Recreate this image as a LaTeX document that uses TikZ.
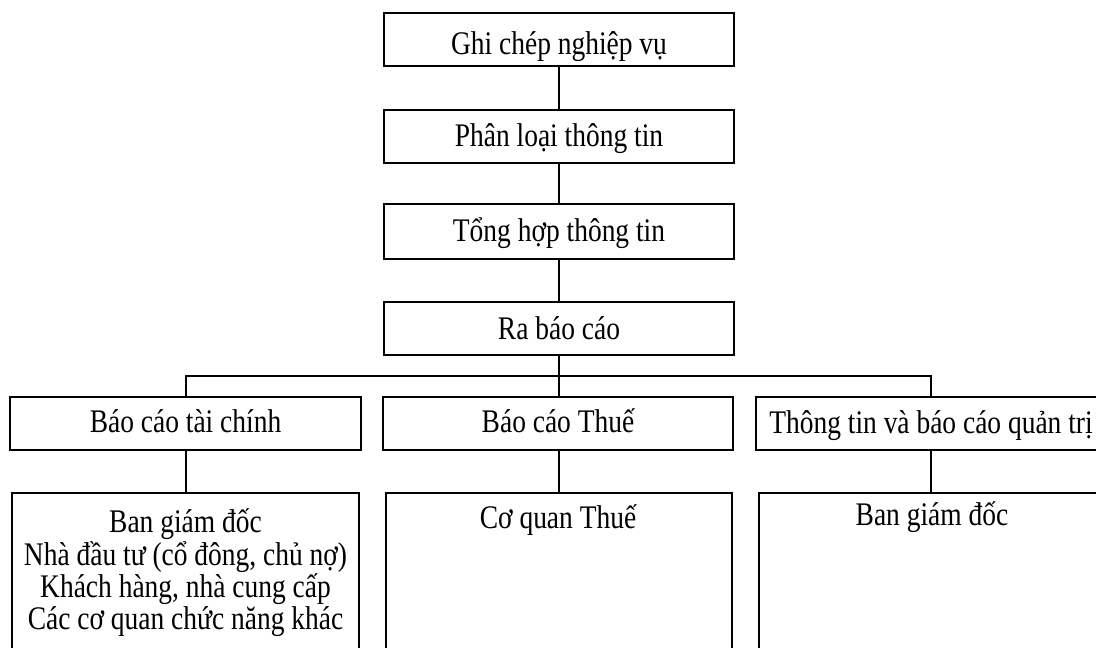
\documentclass[tikz,border=0pt]{standalone}
\usepackage{fontspec}
\setmainfont{Liberation Serif}
\newcommand\vtxt[1]{\scalebox{1}[1.2]{#1}}
\begin{document}
\begin{tikzpicture}[x=0.75pt,y=-0.75pt,
  box/.style 2 args={draw, rectangle, line width=1.5pt, inner sep=0pt,
    minimum width=#1*0.75pt, minimum height=#2*0.75pt},
  lnk/.style={line width=1.5pt},
  txt/.style={anchor=base, inner sep=0pt, font=\fontsize{20.6pt}{22.5pt}\selectfont}]
\useasboundingbox (0,0) rectangle (1096,648);
% top chain
\node[box={350}{53}] (t1) at (559,39.5) {};
\node[box={350}{53}] (t2) at (559,136.5) {};
\node[box={350}{55}] (t3) at (559,231.5) {};
\node[box={350}{53}] (t4) at (559,328.5) {};
\node[txt] (t1t) at (559,55) {\vtxt{Ghi chép nghiệp vụ}};
\node[txt] (t2t) at (559,147) {\vtxt{Phân loại thông tin}};
\node[txt] (t3t) at (559,242) {\vtxt{Tổng hợp thông tin}};
\node[txt] (t4t) at (559,340) {\vtxt{Ra báo cáo}};
% level 2
\node[box={351}{53}] (a) at (185.5,423.5) {};
\node[box={350}{53}] (b) at (558,423.5) {};
\node[box={350}{53}] (c) at (931,423.5) {};
\node[txt] (at) at (185.5,433) {\vtxt{Báo cáo tài chính}};
\node[txt] (bt) at (558,433) {\vtxt{Báo cáo Thuế}};
\node[txt] (ct) at (931,434) {\vtxt{Thông tin và báo cáo quản trị}};
% level 3
\node[box={347}{187}] (a3) at (185.5,586.5) {};
\node[box={346}{187}] (b3) at (559,586.5) {};
\node[box={347}{187}] (c3) at (932.5,586.5) {};
\node[txt, align=center] (a3t) at (185.5,629) {\lineskiplimit=-30pt\relax
  \vtxt{Ban giám đốc}\\
  \vtxt{Nhà đầu tư (cổ đông, chủ nợ)}\\
  \vtxt{Khách hàng, nhà cung cấp}\\
  \vtxt{Các cơ quan chức năng khác}};
\node[txt] (b3t) at (558,528) {\vtxt{Cơ quan Thuế}};
\node[txt] (c3t) at (932,525) {\vtxt{Ban giám đốc}};
% connectors
\coordinate (bus) at (559,376);
\draw[lnk] (t1.south) -- (t2.north);
\draw[lnk] (t2.south) -- (t3.north);
\draw[lnk] (t3.south) -- (t4.north);
\draw[lnk] (t4.south) -- (bus);
\draw[lnk] (a.north) -- (a.north |- bus) -- (c.north |- bus) -- (c.north);
\draw[lnk] (bus) -- (bus |- b.north);
\draw[lnk] (a.south) -- (a3.north);
\draw[lnk] (bus |- b.south) -- (bus |- b3.north);
\draw[lnk] (c.south) -- (c.south |- c3.north);
\end{tikzpicture}
\end{document}
